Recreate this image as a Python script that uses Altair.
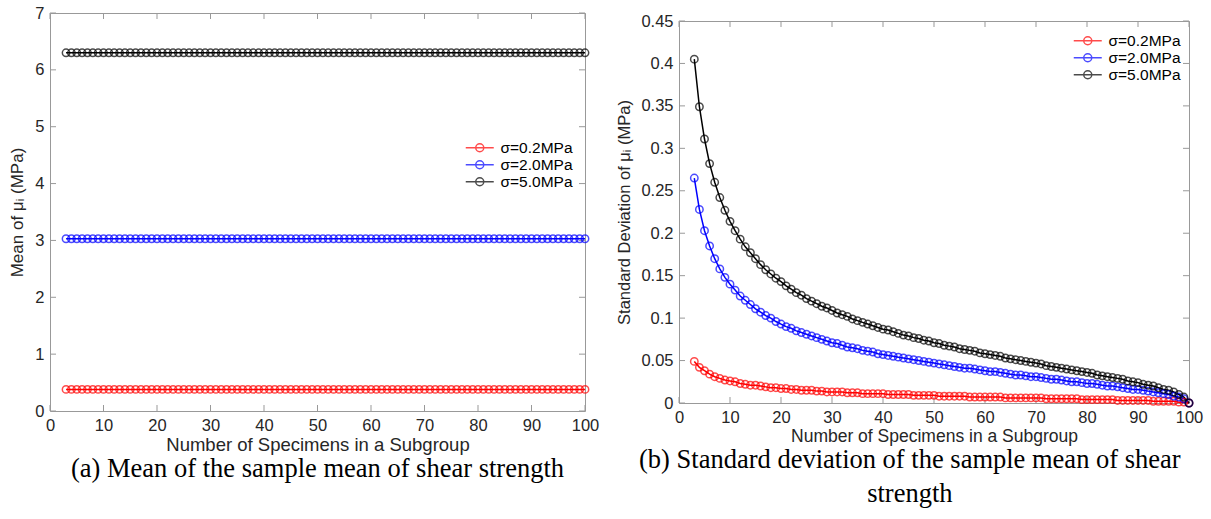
import altair as alt
import pandas as pd

# ---------------- data ----------------
N = list(range(3, 101))
SERIES = ["σ=0.2MPa", "σ=2.0MPa", "σ=5.0MPa"]
COLORS = ["#ff0000", "#0000ff", "#000000"]

# (a) mean of the sample mean: flat levels
MEAN_LEVEL = [0.38, 3.03, 6.30]

# (b) standard deviation of the sample mean, n = 3..100
STD_02 = [0.049, 0.042, 0.038, 0.034, 0.031, 0.029, 0.027, 0.026, 0.025, 0.023,
          0.022, 0.021, 0.021, 0.020, 0.019, 0.018, 0.018, 0.017, 0.017, 0.016,
          0.016, 0.015, 0.015, 0.015, 0.014, 0.014, 0.013, 0.013, 0.013, 0.013,
          0.012, 0.012, 0.012, 0.011, 0.011, 0.011, 0.011, 0.011, 0.010, 0.010,
          0.010, 0.010, 0.010, 0.009, 0.009, 0.009, 0.009, 0.009, 0.008, 0.008,
          0.008, 0.008, 0.008, 0.008, 0.007, 0.007, 0.007, 0.007, 0.007, 0.007,
          0.007, 0.006, 0.006, 0.006, 0.006, 0.006, 0.006, 0.006, 0.006, 0.005,
          0.005, 0.005, 0.005, 0.005, 0.005, 0.005, 0.004, 0.004, 0.004, 0.004,
          0.004, 0.004, 0.004, 0.003, 0.003, 0.003, 0.003, 0.003, 0.003, 0.003,
          0.002, 0.002, 0.002, 0.002, 0.002, 0.001, 0.001, 0.000]
STD_20 = [0.265, 0.228, 0.203, 0.185, 0.170, 0.158, 0.148, 0.140, 0.133, 0.126,
          0.121, 0.116, 0.111, 0.107, 0.103, 0.100, 0.096, 0.093, 0.090, 0.088,
          0.085, 0.083, 0.081, 0.079, 0.077, 0.075, 0.073, 0.071, 0.070, 0.068,
          0.066, 0.065, 0.064, 0.062, 0.061, 0.060, 0.058, 0.057, 0.056, 0.055,
          0.054, 0.053, 0.052, 0.051, 0.050, 0.049, 0.048, 0.047, 0.046, 0.045,
          0.044, 0.043, 0.042, 0.041, 0.041, 0.040, 0.039, 0.038, 0.037, 0.037,
          0.036, 0.035, 0.034, 0.033, 0.033, 0.032, 0.031, 0.031, 0.030, 0.029,
          0.028, 0.028, 0.027, 0.026, 0.025, 0.025, 0.024, 0.023, 0.023, 0.022,
          0.021, 0.020, 0.020, 0.019, 0.018, 0.017, 0.016, 0.016, 0.015, 0.014,
          0.013, 0.012, 0.011, 0.010, 0.008, 0.007, 0.005, 0.000]
STD_50 = [0.405, 0.349, 0.311, 0.282, 0.260, 0.242, 0.227, 0.214, 0.203, 0.193,
          0.184, 0.177, 0.170, 0.163, 0.157, 0.152, 0.147, 0.143, 0.138, 0.134,
          0.130, 0.127, 0.123, 0.120, 0.117, 0.114, 0.112, 0.109, 0.106, 0.104,
          0.102, 0.099, 0.097, 0.095, 0.093, 0.091, 0.089, 0.087, 0.086, 0.084,
          0.082, 0.080, 0.079, 0.077, 0.076, 0.074, 0.073, 0.071, 0.070, 0.068,
          0.067, 0.066, 0.064, 0.063, 0.062, 0.061, 0.059, 0.058, 0.057, 0.056,
          0.055, 0.053, 0.052, 0.051, 0.050, 0.049, 0.048, 0.047, 0.046, 0.044,
          0.043, 0.042, 0.041, 0.040, 0.039, 0.038, 0.037, 0.036, 0.035, 0.033,
          0.032, 0.031, 0.030, 0.029, 0.028, 0.026, 0.025, 0.024, 0.022, 0.021,
          0.020, 0.018, 0.016, 0.015, 0.013, 0.010, 0.007, 0.000]

X_TICKS = [0, 10, 20, 30, 40, 50, 60, 70, 80, 90, 100]
Y_TICKS_A = [0, 1, 2, 3, 4, 5, 6, 7]
Y_TICKS_B = [0, 0.05, 0.1, 0.15, 0.2, 0.25, 0.3, 0.35, 0.4, 0.45]

X_TITLE = "Number of Specimens in a Subgroup"
Y_TITLE_A = "Mean of μᵢ (MPa)"
Y_TITLE_B = "Standard Deviation of μᵢ (MPa)"
CAPTION_A = "(a) Mean of the sample mean of shear strength"
CAPTION_B = ["(b) Standard deviation of the sample mean of shear", "strength"]

# ---------------- tables ----------------
rows_a, rows_b = [], []
for k, s in enumerate(SERIES):
    for n in N:
        rows_a.append({"series": s, "order": k, "n": n, "value": MEAN_LEVEL[k]})
for k, (s, vals) in enumerate(zip(SERIES, [STD_02, STD_20, STD_50])):
    for n, v in zip(N, vals):
        rows_b.append({"series": s, "order": k, "n": n, "value": v})
df_a = pd.DataFrame(rows_a)
df_b = pd.DataFrame(rows_b)

FRAME = "#999999"
TXT = "#262626"
SANS = "Liberation Sans"
SERIF = "Liberation Serif"
TICK = 6

LEG_PATH = "M-2.8,0L2.8,0M0.8,0A0.8,0.8,0,1,1,-0.8,0A0.8,0.8,0,1,1,0.8,0"


def panel(df, ydom, yticks, ytitle, W, H, legx, legy, caption, cap_frame, yfmt,
          xtitle_size, ytitle_size, row_pad):
    xscale = alt.Scale(domain=[0, 100], nice=False, zero=False)
    yscale = alt.Scale(domain=ydom, nice=False, zero=False)
    color = alt.Color(
        "series:N",
        sort=SERIES,
        scale=alt.Scale(domain=SERIES, range=COLORS),
        legend=alt.Legend(
            orient="none", legendX=legx, legendY=legy, title=None,
            symbolType=LEG_PATH, symbolSize=100, symbolStrokeWidth=1.5,
            symbolFillColor="transparent", labelFont=SANS, labelFontSize=15.5,
            labelColor="#000000", labelOffset=13, rowPadding=row_pad, padding=0,
        ),
    )
    xaxis = alt.Axis(values=X_TICKS, title=X_TITLE, labelPadding=6,
                     titlePadding=2, format="d", labelFlush=False,
                     titleFontSize=xtitle_size)
    yaxis = alt.Axis(values=yticks, title=ytitle, labelPadding=6,
                     titlePadding=8, format=yfmt, labelFlush=False,
                     titleFontSize=ytitle_size)
    x = alt.X("n:Q", scale=xscale, axis=xaxis)
    y = alt.Y("value:Q", scale=yscale, axis=yaxis)
    base = alt.Chart(df)
    line = base.mark_line(strokeWidth=1.5).encode(x=x, y=y, color=color,
                                                 detail="series:N",
                                                 order=alt.Order("n:Q"))
    pts = base.mark_point(shape="circle", filled=False, size=55,
                          strokeWidth=1.5).encode(
        x=x, y=y, color=color, order=alt.Order("order:Q"))

    # inward tick marks on all four sides, positioned by the shared scales
    xt = alt.Chart(pd.DataFrame({"n": X_TICKS}))
    yt = alt.Chart(pd.DataFrame({"value": yticks}))
    tb = xt.mark_rule(color=FRAME, strokeWidth=1).encode(
        x=x, y=alt.value(H), y2=alt.value(H - TICK))
    tt = xt.mark_rule(color=FRAME, strokeWidth=1).encode(
        x=x, y=alt.value(0), y2=alt.value(TICK))
    tl = yt.mark_rule(color=FRAME, strokeWidth=1).encode(
        y=y, x=alt.value(0), x2=alt.value(TICK))
    tr = yt.mark_rule(color=FRAME, strokeWidth=1).encode(
        y=y, x=alt.value(W), x2=alt.value(W - TICK))

    return alt.layer(tb, tt, tl, tr, line, pts).properties(
        width=W, height=H,
        view=alt.ViewBackground(stroke=FRAME, strokeWidth=1, fill="white"),
        title=alt.TitleParams(text=caption, orient="bottom", font=SERIF,
                              fontSize=26.5, fontWeight="normal", color="#000000",
                              offset=2, anchor="middle", frame=cap_frame,
                              lineHeight=34),
    )


left = panel(df_a, [0, 7], Y_TICKS_A, Y_TITLE_A, 535, 398, 422, 127,
             CAPTION_A, "group", "d", 18.5, 17, 0)
right = panel(df_b, [0, 0.45], Y_TICKS_B, Y_TITLE_B, 510, 382, 401, 12,
              CAPTION_B, "bounds", ".2~f", 17.5, 16.5, 0)

# invisible spacer that lowers panel (b) a little, as in the reference
spacer = alt.Chart(pd.DataFrame({"a": [0]})).mark_text(text="", opacity=0).encode(
    x=alt.value(0), y=alt.value(0)).properties(width=510, height=8)

right_col = alt.vconcat(spacer, right, spacing=0, bounds="flush").resolve_legend(
    color="independent").resolve_scale(color="independent")

chart = alt.hconcat(left, right_col, spacing=16).resolve_legend(
    color="independent").resolve_scale(color="independent").properties(
    padding={"left": 8, "top": 4, "right": 5, "bottom": 2},
    background="white",
).configure_view(stroke=None).configure_axis(
    labelFont=SANS, labelFontSize=16.5, labelColor=TXT,
    titleFont=SANS, titleFontWeight="normal", titleColor=TXT,
    grid=False, ticks=False, domain=False,
)

chart.save("out.html", embed_options={"renderer": "svg", "actions": False})
